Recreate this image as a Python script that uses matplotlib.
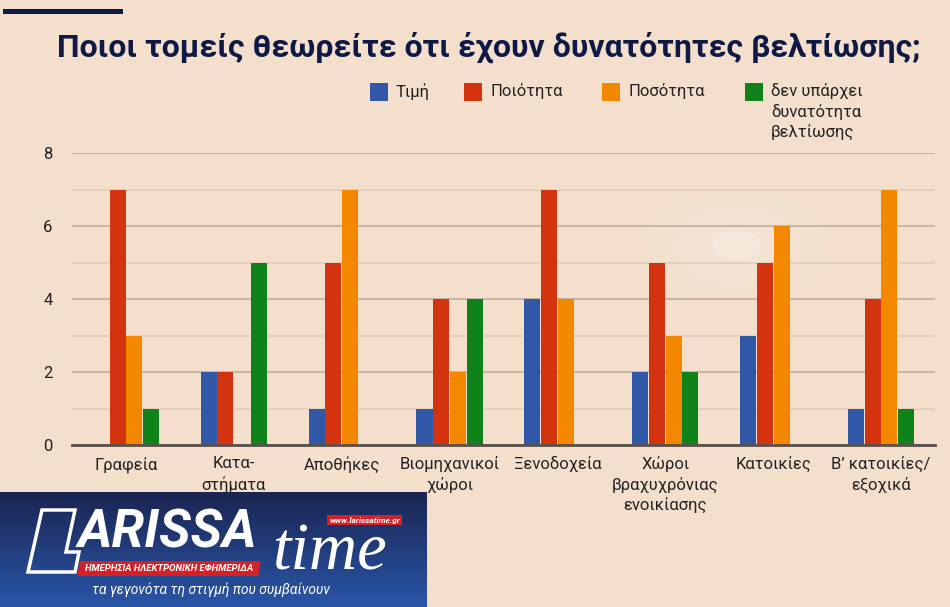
import numpy as np
import matplotlib.pyplot as plt
from matplotlib.patches import Rectangle, Polygon
from matplotlib.colors import LinearSegmentedColormap

categories = ["Γραφεία", "Κατα-\nστήματα", "Αποθήκες", "Βιομηχανικοί\nχώροι",
              "Ξενοδοχεία", "Χώροι\nβραχυχρόνιας\nενοικίασης", "Κατοικίες",
              "Β’ κατοικίες/\nεξοχικά"]
series_names = ["Τιμή", "Ποιότητα", "Ποσότητα", "δεν υπάρχει\nδυνατότητα\nβελτίωσης"]
timi = [0, 2, 1, 1, 4, 2, 3, 1]
poiotita = [7, 2, 5, 4, 7, 5, 5, 4]
posotita = [3, 0, 7, 2, 4, 3, 6, 7]
den_yparxei = [1, 5, 0, 4, 0, 2, 0, 1]
yticks = [0, 2, 4, 6, 8]

colors = ["#3158a6", "#d4330f", "#f38800", "#10821a"]
bg = "#f3dfcc"
navy = "#0e1a45"
txt = "#222222"

plt.rcParams["font.family"] = ["Roboto", "DejaVu Sans"]

fig = plt.figure(figsize=(9.5, 6.07), dpi=100)
fig.patch.set_facecolor(bg)

# soft glow in the background
for r, a in [(86, 0.07), (61, 0.09), (24, 0.16)]:
    c = plt.Circle((737 / 950, 1 - 245 / 607), r / 950, transform=fig.transFigure,
                   color="white", alpha=a, lw=0, zorder=-1)
    fig.patches.append(c)

ax = fig.add_axes([72 / 950, 1 - 445 / 607, 863 / 950, 292 / 607])
ax.set_facecolor("none")

x = np.arange(len(categories))
w = 0.155
for i, vals in enumerate([timi, poiotita, posotita, den_yparxei]):
    ax.bar(x + (i - 1.5) * w, vals, width=w * 0.96, color=colors[i], label=series_names[i],
           zorder=3)

ax.set_ylim(0, 8)
ax.set_xlim(-0.5, len(categories) - 0.5)
ax.set_yticks(yticks)
ax.set_yticks([1, 3, 5, 7], minor=True)
ax.grid(axis="y", which="major", color="#c9b6a5", lw=1.5, zorder=0)
ax.grid(axis="y", which="minor", color="#e3cdba", lw=1.2, zorder=0)
ax.tick_params(axis="y", which="both", length=0, labelsize=12, colors=txt, pad=14)
ax.tick_params(axis="x", length=0, labelsize=12, colors=txt, pad=8)
ax.set_xticks(x)
ax.set_xticklabels(categories, linespacing=1.35, va="top")
for s in ["top", "right", "left"]:
    ax.spines[s].set_visible(False)
ax.spines["bottom"].set_color("#5a504a")
ax.spines["bottom"].set_linewidth(2)
ax.spines["bottom"].set_zorder(4)

# legend (drawn by hand so the wrapped label hangs from the top line)
leg_x = [370, 464, 602, 745]
for i, name in enumerate(series_names):
    fig.add_artist(Rectangle((leg_x[i] / 950, 1 - 101 / 607), 18 / 950, 18 / 607,
                             transform=fig.transFigure, color=colors[i], lw=0))
    fig.text((leg_x[i] + 26) / 950, 1 - 83 / 607, name, fontsize=12, color=txt,
             va="top", ha="left", linespacing=1.35)

# title and top rule
fig.text(57 / 950, 1 - 47 / 607, "Ποιοι τομείς θεωρείτε ότι έχουν δυνατότητες βελτίωσης;",
         fontsize=23, fontweight="bold", color=navy, va="center", ha="left")
fig.add_artist(Rectangle((3 / 950, 1 - 14 / 607), 120 / 950, 5 / 607,
                         transform=fig.transFigure, color=navy, lw=0))

# logo block
lax = fig.add_axes([0, 0, 427 / 950, 115 / 607])
grad = np.linspace(0, 1, 100).reshape(-1, 1)
lax.imshow(grad, aspect="auto", extent=[0, 427, 0, 115], origin="upper",
           cmap=LinearSegmentedColormap.from_list("g", ["#1b2552", "#2a56a8"]))
lax.set_xlim(0, 427)
lax.set_ylim(0, 115)
lax.axis("off")
lax.add_patch(Polygon([[42, 97], [75, 97], [66, 55], [79, 55], [75, 35], [28, 35]],
                      closed=True, fc="none", ec="white", lw=2.5))
lax.text(78, 48, "ARISSA", fontsize=38, fontweight="bold", style="italic", color="white",
         va="bottom", ha="left")
lax.text(272, 37, "time", fontsize=48, style="italic", color="white", va="baseline",
         ha="left", family="Liberation Serif")
lax.add_patch(Polygon([[77, 31], [258, 31], [261, 46], [80, 46]], closed=True,
                      fc="#d42027", ec="none"))
lax.text(169, 38.5, "ΗΜΕΡΗΣΙΑ ΗΛΕΚΤΡΟΝΙΚΗ ΕΦΗΜΕΡΙΔΑ", fontsize=6.8, fontweight="bold",
         style="italic", color="white", va="center", ha="center")
lax.add_patch(Rectangle((327, 82), 75, 10, fc="#d42027", ec="none"))
lax.text(364.5, 87, "www.larissatime.gr", fontsize=6, fontweight="bold", style="italic",
         color="white", va="center", ha="center")
lax.text(92, 17, "τα γεγονότα τη στιγμή που συμβαίνουν", fontsize=10, style="italic",
         color="white", va="center", ha="left")

fig.savefig("out.png", dpi=100, facecolor=bg)
